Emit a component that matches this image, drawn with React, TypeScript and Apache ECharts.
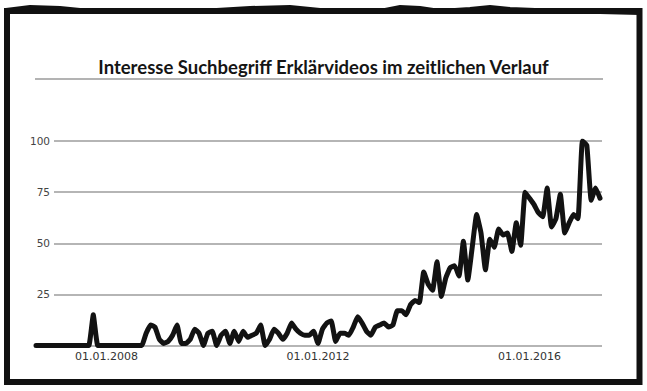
import React, { useEffect, useRef } from "react";
import * as echarts from "echarts";

const TITLE = "Interesse Suchbegriff Erklärvideos im zeitlichen Verlauf";

// monthly categories, Sept 2006 .. May 2017
const START_YEAR = 2006;
const START_MONTH = 9;
const MONTH_COUNT = 129;
const months: string[] = [];
for (let k = 0; k < MONTH_COUNT; k++) {
  const m = ((START_MONTH - 1 + k) % 12) + 1;
  const y = START_YEAR + Math.floor((START_MONTH - 1 + k) / 12);
  months.push("01." + String(m).padStart(2, "0") + "." + y);
}

const shownLabels = ["01.01.2008", "01.01.2012", "01.01.2016"];

const interest: number[] = [
  0, 0, 0, 0, 0, 0, 0, 0, 0, 0, 0, 0, 0, 15, 0, 0, 0, 0, 0, 0, 0, 0, 0, 0, 0,
  6, 10, 9, 3, 1, 2, 5, 10, 1, 1, 3, 8, 6, 0, 6, 7, 0, 5, 7, 1, 7, 2, 7, 4, 5,
  6, 10, 0, 3, 8, 6, 3, 6, 11, 8, 6, 5, 5, 7, 1, 8, 11, 12, 2, 6, 6, 5, 9, 14,
  11, 7, 5, 9, 10, 11, 9, 10, 17, 17, 15, 20, 22, 21, 36, 30, 27, 41, 24, 33,
  38, 39, 34, 51, 32, 48, 64, 55, 37, 52, 48, 57, 54, 55, 46, 60, 49, 75, 72,
  69, 65, 63, 77, 58, 62, 74, 55, 60, 64, 62, 100, 98, 71, 77, 72,
];

const yTicks = [0, 25, 50, 75, 100];

export default function App() {
  const ref = useRef<HTMLDivElement>(null);
  useEffect(() => {
    if (!ref.current) return;
    const chart = echarts.init(ref.current, undefined, { renderer: "svg" });
    chart.setOption({
      animation: false,
      backgroundColor: "#ffffff",
      title: {
        text: TITLE,
        left: "center",
        top: 57,
        padding: 0,
        textStyle: {
          fontFamily: "Lato",
          fontWeight: "bold",
          fontSize: 18.5,
          color: "#151515",
        },
      },
      grid: [
        { left: 54, right: 45, top: 141, bottom: 45.5 },
        { left: 36, right: 47, top: 141, bottom: 45.5 },
      ],
      xAxis: [
        { gridIndex: 0, type: "value", show: false, min: 0, max: 1 },
        {
          gridIndex: 1,
          type: "category",
          data: months,
          boundaryGap: false,
          axisLine: { show: false },
          axisTick: { show: false },
          splitLine: { show: false },
          axisLabel: {
            interval: (_i: number, v: string) => shownLabels.includes(v),
            fontFamily: "DejaVu Sans",
            fontSize: 11,
            color: "#333",
            margin: 5,
          },
        },
      ],
      yAxis: [
        {
          gridIndex: 0,
          type: "value",
          min: yTicks[0],
          max: yTicks[yTicks.length - 1],
          interval: 25,
          axisLine: { show: false },
          axisTick: { show: false },
          splitLine: { lineStyle: { color: "#9c9c9c", width: 1.5 } },
          axisLabel: {
            fontFamily: "DejaVu Sans",
            fontSize: 10.5,
            color: "#444",
            margin: 4,
            formatter: (v: number) => (v === 0 ? "" : String(v)),
          },
        },
        { gridIndex: 1, type: "value", min: 0, max: 100, show: false },
      ],
      series: [
        {
          type: "line",
          xAxisIndex: 1,
          yAxisIndex: 1,
          data: interest,
          showSymbol: false,
          smooth: 0.12,
          lineStyle: { color: "#121212", width: 5, join: "round", cap: "round" },
        },
      ],
      graphic: [
        {
          type: "line",
          shape: { x1: 35, y1: 79, x2: 603, y2: 79 },
          style: { stroke: "#9a9a9a", lineWidth: 1.5 },
        },
        {
          type: "rect",
          shape: { x: 7, y: 11, width: 632.5, height: 371 },
          style: { fill: "none", stroke: "#111", lineWidth: 6 },
        },
        {
          type: "polyline",
          shape: {
            points: [
              [6, 10], [30, 7], [60, 8], [90, 11], [150, 10], [200, 11],
              [250, 8], [290, 7], [320, 10], [380, 11], [400, 7], [420, 8],
              [440, 11], [470, 9], [490, 7], [510, 9], [560, 11], [600, 12],
              [640, 13],
            ],
          },
          style: { stroke: "#111", lineWidth: 4, fill: "none" },
        },
      ],
    });
    return () => chart.dispose();
  }, []);
  return (
    <div
      ref={ref}
      style={{ position: "fixed", left: 0, top: 0, width: 647, height: 391 }}
    />
  );
}
